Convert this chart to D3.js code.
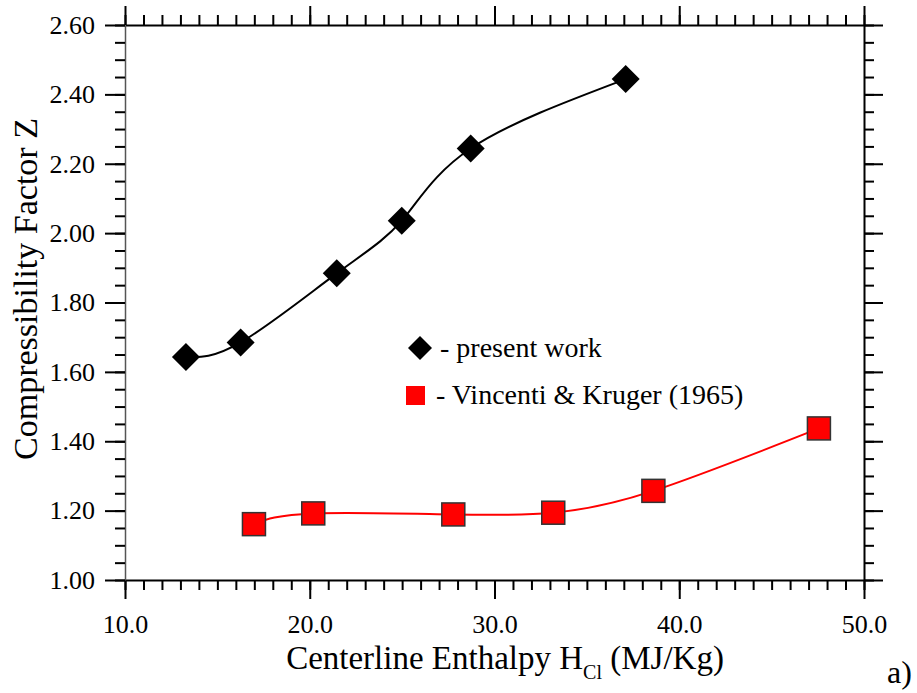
<!DOCTYPE html>
<html>
<head>
<meta charset="utf-8">
<script src="https://cdn.jsdelivr.net/npm/d3@7/dist/d3.min.js"></script>
<style>
  html, body { margin: 0; padding: 0; background: #fff; }
  svg { display: block; }
  svg text { font-family: "Liberation Serif", "Tinos", "Times New Roman", Times, "DejaVu Serif", serif; fill: #000; }
</style>
</head>
<body>
<svg id="chart" width="917" height="693"></svg>
<script>
// Compressibility factor Z versus centerline enthalpy
const presentH = [13.30, 16.26, 21.46, 24.98, 28.71, 37.10];
const presentZ = [1.643, 1.685, 1.884, 2.036, 2.244, 2.444];
const vkH = [16.98, 20.19, 27.77, 33.18, 38.60, 47.56];
const vkZ = [1.161, 1.192, 1.189, 1.194, 1.257, 1.437];

const xMajorTicks = [10, 20, 30, 40, 50];
const yMajorTicks = [1.0, 1.2, 1.4, 1.6, 1.8, 2.0, 2.2, 2.4, 2.6];
const legendLabels = ["- present work", "- Vincenti & Kruger (1965)"];

const svg = d3.select("#chart");
const x = d3.scaleLinear().domain([10, 50]).range([125, 864]);
const y = d3.scaleLinear().domain([1.0, 2.6]).range([580, 25]);

const xMinor = d3.range(10, 50.001, 1);
const yMinor = d3.range(1.0, 2.6001, 0.05);

function styleAxis(g) {
  g.attr("font-family", null);
  g.selectAll("path.domain").attr("stroke", "#000").attr("stroke-width", 2);
  g.selectAll(".tick line").attr("stroke", "#000").attr("stroke-width", 2);
  g.selectAll(".tick text").attr("font-size", 26);
}

// bottom axis
svg.append("g").attr("transform", `translate(0,${y(1.0)})`)
  .call(d3.axisBottom(x).tickValues(xMinor).tickSize(10).tickSizeOuter(0).tickFormat(""))
  .call(styleAxis);
svg.append("g").attr("transform", `translate(0,${y(1.0)})`)
  .call(d3.axisBottom(x).tickValues(xMajorTicks).tickSize(19).tickSizeOuter(0)
    .tickPadding(16).tickFormat(d3.format(".1f")))
  .call(styleAxis)
  .call(g => g.select("path.domain").remove());

// top axis
svg.append("g").attr("transform", `translate(0,${y(2.6)})`)
  .call(d3.axisTop(x).tickValues(xMinor).tickSize(10).tickSizeOuter(0).tickFormat(""))
  .call(styleAxis);
svg.append("g").attr("transform", `translate(0,${y(2.6)})`)
  .call(d3.axisTop(x).tickValues(xMajorTicks).tickSize(19).tickSizeOuter(0).tickFormat(""))
  .call(styleAxis)
  .call(g => g.select("path.domain").remove());

// left axis
svg.append("g").attr("transform", `translate(${x(10)},0)`)
  .call(d3.axisLeft(y).tickValues(yMinor).tickSize(10).tickSizeOuter(0).tickFormat(""))
  .call(styleAxis)
  .call(g => g.select("path.domain").attr("stroke", "#555").attr("stroke-width", 1.5));
svg.append("g").attr("transform", `translate(${x(10)},0)`)
  .call(d3.axisLeft(y).tickValues(yMajorTicks).tickSize(20).tickSizeOuter(0)
    .tickPadding(10).tickFormat(d3.format(".2f")))
  .call(styleAxis)
  .call(g => g.select("path.domain").remove());

// right axis
svg.append("g").attr("transform", `translate(${x(50)},0)`)
  .call(d3.axisRight(y).tickValues(yMinor).tickSize(10).tickSizeOuter(0).tickFormat(""))
  .call(styleAxis);
svg.append("g").attr("transform", `translate(${x(50)},0)`)
  .call(d3.axisRight(y).tickValues(yMajorTicks).tickSize(19).tickSizeOuter(0).tickFormat(""))
  .call(styleAxis)
  .call(g => g.select("path.domain").remove());

// fitted curves
const line = d3.line().x(d => x(d[0])).y(d => y(d[1])).curve(d3.curveNatural);
const present = presentH.map((h, i) => [h, presentZ[i]]);
const vk = vkH.map((h, i) => [h, vkZ[i]]);

svg.append("path").datum(present).attr("d", line)
  .attr("fill", "none").attr("stroke", "#000").attr("stroke-width", 2);
svg.append("path").datum(vk).attr("d", line)
  .attr("fill", "none").attr("stroke", "#ff0000").attr("stroke-width", 2);

// markers
const diamond = d3.symbol().type(d3.symbolSquare).size(14 * 14 * 2);
svg.append("g").selectAll("path").data(present).join("path")
  .attr("d", diamond)
  .attr("transform", d => `translate(${x(d[0])},${y(d[1])}) rotate(45)`)
  .attr("fill", "#000");

const sq = 23;
svg.append("g").selectAll("rect").data(vk).join("rect")
  .attr("x", d => x(d[0]) - sq / 2).attr("y", d => y(d[1]) - sq / 2)
  .attr("width", sq).attr("height", sq)
  .attr("fill", "#ff0000").attr("stroke", "#333").attr("stroke-width", 1.5);

// legend
const leg = svg.append("g");
leg.append("path")
  .attr("d", d3.symbol().type(d3.symbolSquare).size(12 * 12 * 2))
  .attr("transform", "translate(420,348) rotate(45)")
  .attr("fill", "#000");
leg.append("rect").attr("x", 406).attr("y", 386).attr("width", 19).attr("height", 19)
  .attr("fill", "#ff0000");
leg.selectAll("text").data(legendLabels).join("text")
  .attr("x", (d, i) => i === 0 ? 440 : 436)
  .attr("y", (d, i) => i === 0 ? 357 : 404)
  .attr("font-size", 28)
  .text(d => d);

// axis titles
const xt = svg.append("text").attr("x", 505).attr("y", 669)
  .attr("text-anchor", "middle").attr("font-size", 33);
xt.append("tspan").text("Centerline Enthalpy H");
xt.append("tspan").attr("font-size", 20).attr("dy", 10).text("Cl");
xt.append("tspan").attr("dy", -10).text(" (MJ/Kg)");

svg.append("text")
  .attr("transform", "translate(37,289) rotate(-90)")
  .attr("text-anchor", "middle")
  .attr("font-size", 34)
  .text("Compressibility Factor Z");

svg.append("text").attr("x", 887).attr("y", 683).attr("font-size", 32).text("a)");
</script>
</body>
</html>
